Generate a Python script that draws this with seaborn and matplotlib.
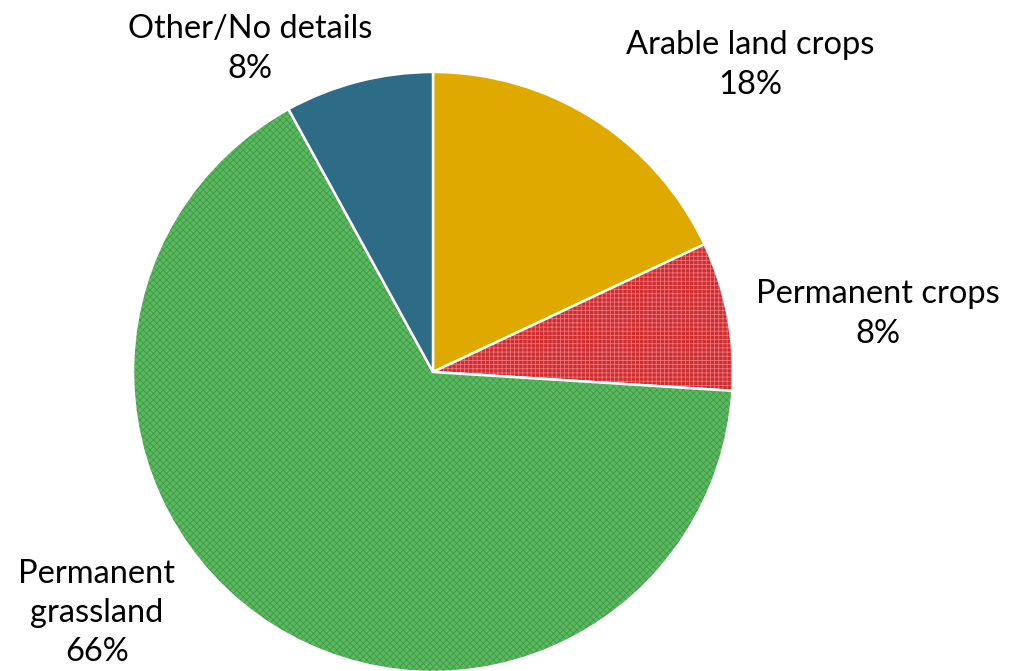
import matplotlib
matplotlib.use("Agg")
import matplotlib.pyplot as plt
import seaborn as sns

categories = ["Arable land crops", "Permanent crops", "Permanent grassland", "Other/No details"]
shares = [18, 8, 66, 8]
label_texts = ["Arable land crops\n18%", "Permanent crops\n8%", "Permanent\ngrassland\n66%", "Other/No details\n8%"]

sns.set_theme(style="white")
plt.rcParams["font.family"] = ["Lato", "DejaVu Sans"]
plt.rcParams["hatch.linewidth"] = 0.6

fill_colors = ["#DFA900", "#D12B2E", "#5DB862", "#2E6B86"]
hatch_colors = [None, "#E8767A", "#3E9A45", None]
hatches = [None, "++++", "xxxxx", None]

fig = plt.figure(figsize=(10.18, 6.71), dpi=100)
ax = fig.add_axes([0, 0, 1, 1])

wedges, _ = ax.pie(
    shares,
    startangle=90,
    counterclock=False,
    center=(433, 299),
    radius=300,
    colors=fill_colors,
    wedgeprops=dict(edgecolor="white", linewidth=1.8),
    frame=True,
)
ax.set_xlim(0, 1018)
ax.set_ylim(0, 671)
ax.axis("off")
for w, h, hc in zip(wedges, hatches, hatch_colors):
    if h:
        w.set_hatch(h)
        w._hatch_color = matplotlib.colors.to_rgba(hc)

label_pos = [(750, 606), (878, 357), (97, 58), (250, 622)]
for txt, (x, y) in zip(label_texts, label_pos):
    ax.text(x, y, txt, ha="center", va="center", fontsize=23.5,
            color="black", linespacing=1.38)

fig.savefig("out.png", dpi=100)
